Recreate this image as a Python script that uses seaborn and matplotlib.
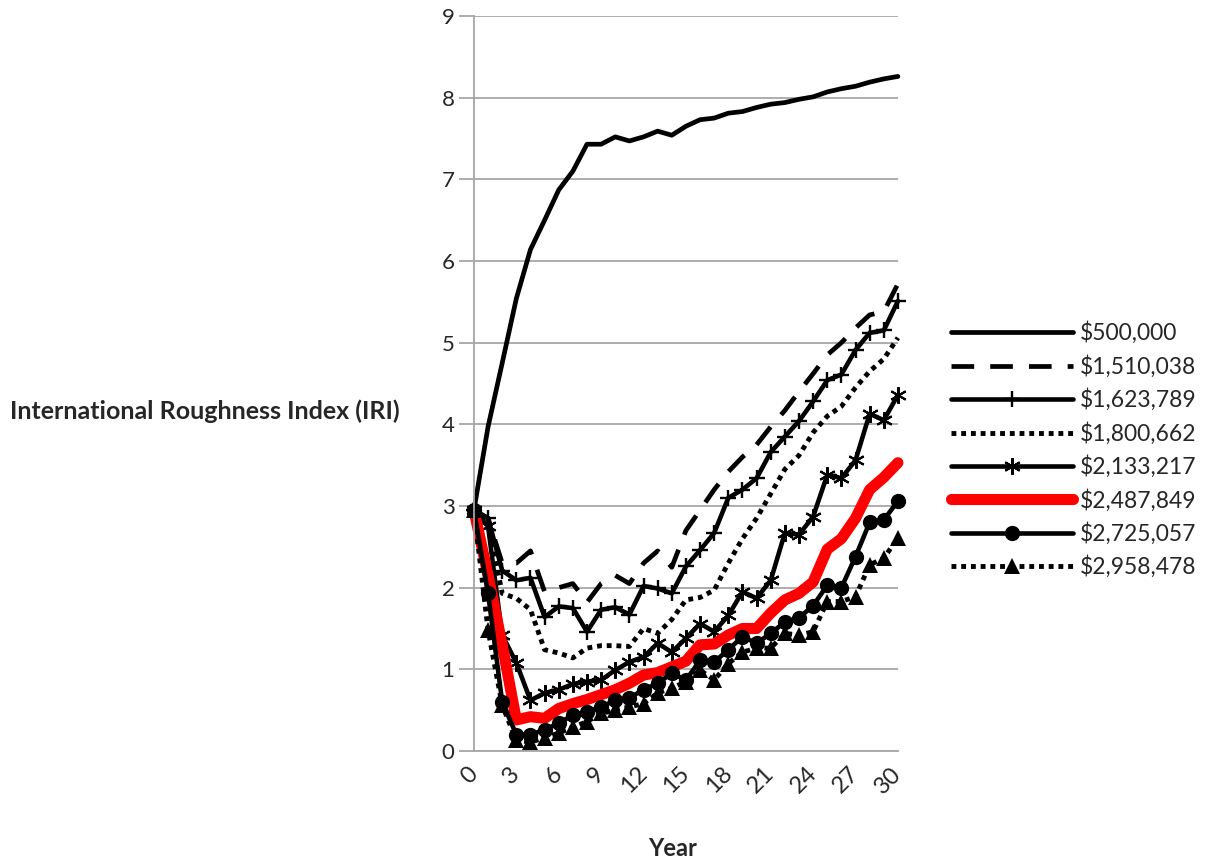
import matplotlib
import matplotlib.pyplot as plt
import pandas as pd
import seaborn as sns

matplotlib.use('agg')

years = list(range(31))

iri_500000 = [2.95, 3.97, 4.75, 5.54, 6.14, 6.50, 6.87, 7.10, 7.43, 7.43, 7.52, 7.47, 7.52, 7.59, 7.54,
              7.65, 7.73, 7.75, 7.81, 7.83, 7.88, 7.92, 7.94, 7.98, 8.01, 8.07, 8.11, 8.14, 8.19, 8.23, 8.26]
iri_1510038 = [2.95, 2.85, 2.30, 2.30, 2.45, 1.95, 2.00, 2.05, 1.82, 2.05, 2.15, 2.05, 2.30, 2.45, 2.25,
               2.70, 2.95, 3.20, 3.42, 3.60, 3.75, 3.97, 4.17, 4.40, 4.62, 4.85, 5.00, 5.18, 5.34, 5.38, 5.72]
iri_1623789 = [2.95, 2.85, 2.21, 2.09, 2.12, 1.64, 1.77, 1.75, 1.46, 1.73, 1.76, 1.67, 2.02, 1.99, 1.93,
               2.26, 2.46, 2.67, 3.10, 3.20, 3.34, 3.66, 3.85, 4.04, 4.28, 4.54, 4.61, 4.91, 5.12, 5.15, 5.51]
iri_1800662 = [2.95, 2.80, 1.93, 1.87, 1.73, 1.24, 1.20, 1.14, 1.26, 1.29, 1.29, 1.28, 1.50, 1.44, 1.61,
               1.85, 1.88, 1.97, 2.30, 2.60, 2.85, 3.15, 3.45, 3.62, 3.90, 4.10, 4.22, 4.45, 4.65, 4.80, 5.06]
iri_2133217 = [2.95, 2.75, 1.42, 1.08, 0.62, 0.71, 0.75, 0.82, 0.85, 0.87, 0.99, 1.09, 1.15, 1.32, 1.21,
               1.38, 1.56, 1.46, 1.66, 1.95, 1.87, 2.09, 2.67, 2.65, 2.87, 3.38, 3.34, 3.56, 4.13, 4.05, 4.36]
iri_2487849 = [2.95, 2.15, 1.30, 0.38, 0.42, 0.40, 0.52, 0.58, 0.63, 0.69, 0.75, 0.83, 0.93, 0.96, 1.03,
               1.10, 1.30, 1.31, 1.42, 1.50, 1.50, 1.69, 1.85, 1.93, 2.07, 2.47, 2.60, 2.85, 3.20, 3.35, 3.53]
iri_2725057 = [2.95, 1.93, 0.60, 0.20, 0.20, 0.26, 0.34, 0.44, 0.48, 0.54, 0.62, 0.65, 0.75, 0.83, 0.95,
               0.87, 1.11, 1.09, 1.24, 1.40, 1.32, 1.44, 1.58, 1.63, 1.78, 2.03, 2.00, 2.38, 2.80, 2.83, 3.06]
iri_2958478 = [2.95, 1.48, 0.56, 0.13, 0.11, 0.16, 0.22, 0.29, 0.36, 0.46, 0.50, 0.54, 0.58, 0.71, 0.77,
               0.85, 0.99, 0.87, 1.07, 1.21, 1.26, 1.26, 1.44, 1.42, 1.46, 1.83, 1.83, 1.89, 2.28, 2.36, 2.61]

budgets = ['$500,000', '$1,510,038', '$1,623,789', '$1,800,662',
           '$2,133,217', '$2,487,849', '$2,725,057', '$2,958,478']
series = [iri_500000, iri_1510038, iri_1623789, iri_1800662,
          iri_2133217, iri_2487849, iri_2725057, iri_2958478]

df = pd.DataFrame({'Year': years})
for name, vals in zip(budgets, series):
    df[name] = vals
df_long = df.melt(id_vars='Year', var_name='Budget', value_name='IRI')

dotted = (0, (1.0, 1.0))
dashed = (0, (4.8, 3.4))
asterisk = (6, 2, 0)
styles = {
    '$500,000':   dict(color='black', lw=3.4, ls='-', marker=None),
    '$1,510,038': dict(color='black', lw=3.4, ls=dashed, marker=None),
    '$1,623,789': dict(color='black', lw=3.3, ls='-', marker='+', ms=12, mew=1.7),
    '$1,800,662': dict(color='black', lw=3.5, ls=dotted, marker=None),
    '$2,133,217': dict(color='black', lw=3.3, ls='-', marker=asterisk, ms=12, mew=1.5),
    '$2,487,849': dict(color='#ff0000', lw=8.0, ls='-', marker=None),
    '$2,725,057': dict(color='black', lw=3.3, ls='-', marker='o', ms=11, mew=0),
    '$2,958,478': dict(color='black', lw=3.5, ls=dotted, marker='^', ms=11, mew=0),
}

sns.set_theme(style='white')
plt.rcParams['font.family'] = ['Lato', 'DejaVu Sans']

fig = plt.figure(figsize=(12.09, 8.65), dpi=100)
ax = fig.add_axes([0.392, 0.1318, 0.3507, 0.8497])

for name in budgets:
    st = styles[name]
    sub = df_long[df_long['Budget'] == name]
    kws = dict(color=st['color'], linewidth=st['lw'], linestyle=st['ls'], clip_on=False)
    if st['marker'] is not None:
        kws.update(marker=st['marker'], markersize=st['ms'], markeredgewidth=st['mew'],
                   markeredgecolor='black', markerfacecolor='black')
    line_ax = sns.lineplot(data=sub, x='Year', y='IRI', ax=ax, label=name,
                           errorbar=None, **kws)
    line_ax.lines[-1].set_dash_capstyle('butt')

ax.set_xlim(0, 30)
ax.set_ylim(0, 9)
ax.set_xticks(range(0, 31, 3))
ax.set_yticks(range(0, 10))
ax.yaxis.grid(True, color='#a6a6a6', linewidth=1.3)
ax.xaxis.grid(False)
ax.set_axisbelow(True)
for side in ['top', 'right']:
    ax.spines[side].set_visible(False)
for side in ['left', 'bottom']:
    ax.spines[side].set_color('#a6a6a6')
    ax.spines[side].set_linewidth(1.3)

ax.tick_params(axis='y', length=11, width=1.3, color='#a6a6a6', pad=3, labelsize=16, left=True)
ax.tick_params(axis='x', length=0, pad=14, labelsize=17)
plt.setp(ax.get_xticklabels(), rotation=45, ha='right', va='center', rotation_mode='anchor')

ax.set_xlabel('')
ax.set_ylabel('')
fig.text(10 / 1209, 1 - 411 / 865, 'International Roughness Index (IRI)',
         fontsize=18, fontweight='bold', ha='left', va='center')
fig.text(673 / 1209, 1 - 848 / 865, 'Year', fontsize=17, fontweight='bold',
         ha='center', va='center')

ax.legend(loc='center left', bbox_to_anchor=(940 / 1209, 1 - 450 / 865),
          bbox_transform=fig.transFigure, frameon=False, fontsize=16.5,
          handlelength=5.3, handletextpad=0.3, labelspacing=0.47,
          borderpad=0, numpoints=1)

fig.savefig('out.png', dpi=100)
